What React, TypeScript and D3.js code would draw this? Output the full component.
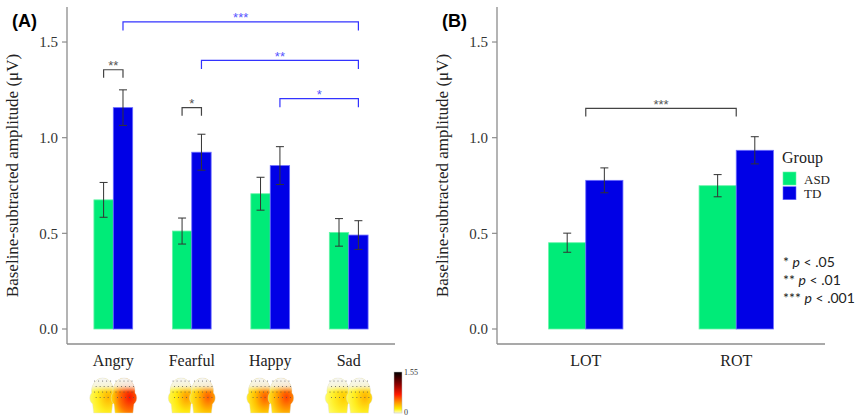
import React from 'react';
import { scaleLinear, scalePoint } from 'd3';

// panel A: emotions
const emotions = ['Angry', 'Fearful', 'Happy', 'Sad'];
const asdEmotion = [0.675, 0.512, 0.707, 0.505];
const asdEmotionErr = [0.091, 0.068, 0.086, 0.072];
const tdEmotion = [1.157, 0.924, 0.854, 0.491];
const tdEmotionErr = [0.093, 0.094, 0.099, 0.075];

// panel B: regions
const regions = ['LOT', 'ROT'];
const asdRegion = [0.451, 0.749];
const asdRegionErr = [0.05, 0.058];
const tdRegion = [0.777, 0.934];
const tdRegionErr = [0.065, 0.071];

const yTicks = [0, 0.5, 1.0, 1.5];
const groups = ['ASD', 'TD'];
const groupColors = ['#00EB78', '#0000E6'];
const groupStroke = ['#66f5a8', '#6a6aff'];

// significance brackets: [category from, group from, category to, group to, level, label, colour]
// group -1 = centre of the category
const bracketsA: [number, number, number, number, number, string, string][] = [
  [0, 1, 3, 1, 1.605, '***', 'blue'],
  [1, 1, 3, 1, 1.404, '**', 'blue'],
  [2, 1, 3, 1, 1.204, '*', 'blue'],
  [0, 0, 0, 1, 1.355, '**', 'gray'],
  [1, 0, 1, 1, 1.157, '*', 'gray'],
];
const bracketsB: [number, number, number, number, number, string, string][] = [
  [0, -1, 1, -1, 1.153, '***', 'gray'],
];
const pNotes = [['*', '.05'], ['**', '.01'], ['***', '.001']];

// scalp maps under panel A (rough heat level per head: ASD, TD)
const headHeat = [[0.3, 0.62], [0.35, 0.47], [0.47, 0.52], [0.25, 0.3]];

const serif = '"Liberation Serif", "DejaVu Serif", serif';
const sans = 'Lato, "Liberation Sans", sans-serif';

const y = scaleLinear().domain([-0.0784, 1.683]).range([344, 7]);

function heatColor(t: number) {
  // white -> yellow -> red -> dark red
  if (t < 0.4) return `rgb(255,${Math.round(255 - (t / 0.4) * 25)},${Math.round(110 - (t / 0.4) * 110)})`;
  if (t < 0.8) return `rgb(255,${Math.round(230 - ((t - 0.4) / 0.4) * 205)},0)`;
  return `rgb(${Math.round(255 - ((t - 0.8) / 0.2) * 60)},${Math.round(25 - ((t - 0.8) / 0.2) * 25)},0)`;
}

function Panel({ x0, x1, cats, asd, asdErr, td, tdErr, brackets, label }: any) {
  const x = scalePoint<string>().domain(cats).range([x0, x1]).padding(0.59);
  const bw = x.step() * 0.247;
  const barX = (ci: number, g: number) => (x(cats[ci]) as number) + (g === 0 ? -bw : 0);
  const barC = (ci: number, g: number) => (g < 0 ? (x(cats[ci]) as number) : barX(ci, g) + bw / 2);
  const series = [
    { vals: asd, err: asdErr },
    { vals: td, err: tdErr },
  ];
  return (
    <g>
      <text x={x0 - 55} y={27} fontFamily={'"Liberation Sans", Arial, sans-serif'} fontWeight="bold" fontSize={18}>{label}</text>
      {/* axes */}
      <line x1={x0} x2={x0} y1={7} y2={344} stroke="#8c8c8c" strokeWidth={1.3} />
      <line x1={x0} x2={x1} y1={344} y2={344} stroke="#8c8c8c" strokeWidth={1.3} />
      {yTicks.map((t) => (
        <g key={t}>
          <line x1={x0 - 5} x2={x0} y1={y(t)} y2={y(t)} stroke="#8c8c8c" strokeWidth={1.2} />
          <text x={x0 - 9} y={y(t)} dy="0.35em" textAnchor="end" fontFamily={serif} fontSize={15} fill="#333">{t.toFixed(1)}</text>
        </g>
      ))}
      <text transform={`translate(${x0 - 49},${(7 + 344) / 2}) rotate(-90)`} textAnchor="middle" fontFamily={serif} fontSize={17} fill="#222">
        Baseline-subtracted amplitude (μV)
      </text>
      {cats.map((c: string) => (
        <text key={c} x={x(c)} y={366} textAnchor="middle" fontFamily={serif} fontSize={16} fill="#222">{c}</text>
      ))}
      {/* bars */}
      {series.map((s, g) =>
        s.vals.map((v: number, ci: number) => (
          <rect key={`${g}-${ci}`} x={barX(ci, g)} y={y(v)} width={bw} height={y(0) - y(v)}
            fill={groupColors[g]} stroke={groupStroke[g]} strokeWidth={0.8} />
        ))
      )}
      {/* error bars */}
      {series.map((s, g) =>
        s.vals.map((v: number, ci: number) => {
          const cx = barC(ci, g);
          const lo = y(v - s.err[ci]);
          const hi = y(v + s.err[ci]);
          return (
            <g key={`e${g}-${ci}`} stroke="#333" strokeWidth={1}>
              <line x1={cx} x2={cx} y1={lo} y2={hi} />
              <line x1={cx - 4} x2={cx + 4} y1={lo} y2={lo} />
              <line x1={cx - 4} x2={cx + 4} y1={hi} y2={hi} />
            </g>
          );
        })
      )}
      {/* brackets */}
      {brackets.map(([c1, g1, c2, g2, lvl, lab, col]: any, i: number) => {
        const xa = barC(c1, g1);
        const xb = barC(c2, g2);
        const yl = y(lvl);
        const legs = col === 'blue' ? 8.7 : 8;
        const stroke = col === 'blue' ? '#3333ff' : '#444';
        const tcol = col === 'blue' ? '#5555ff' : '#555';
        return (
          <g key={i}>
            <path d={`M${xa},${yl + legs}V${yl}H${xb}V${yl + legs}`} fill="none" stroke={stroke} strokeWidth={1.2} />
            <text x={(xa + xb) / 2} y={yl + 0.5} textAnchor="middle" fontFamily={'"Liberation Sans", sans-serif'} fontSize={13} fill={tcol}>{lab}</text>
          </g>
        );
      })}
    </g>
  );
}

function Head({ x, top, heat, id }: { x: number; top: number; heat: number; id: string }) {
  const w = 26;
  const h = 36;
  const d = `M${x + 4},${top + h} L${x + 3},${top + 27} C${x},${top + 25} ${x - 1},${top + 19} ${x + 2},${top + 16}
    C${x + 1},${top + 9} ${x + 6},${top + 1} ${x + w / 2},${top + 1} C${x + w - 6},${top + 1} ${x + w - 1},${top + 9} ${x + w - 2},${top + 16}
    C${x + w + 1},${top + 19} ${x + w},${top + 25} ${x + w - 3},${top + 27} L${x + w - 4},${top + h} Z`;
  const dots: [number, number][] = [];
  for (let r = 0; r < 4; r++) {
    for (let c = 0; c < 5; c++) dots.push([x + 5 + c * 4 + (r % 2) * 1.5, top + 4 + r * 5.5]);
  }
  return (
    <g>
      <defs>
        <radialGradient id={id} cx="0.72" cy="0.55" r="0.75">
          <stop offset="0%" stopColor={heatColor(Math.min(1, heat + 0.2))} />
          <stop offset="55%" stopColor={heatColor(heat)} />
          <stop offset="100%" stopColor={heatColor(Math.max(0, heat - 0.25))} />
        </radialGradient>
        <linearGradient id={id + 't'} x1="0" y1="0" x2="0" y2="1">
          <stop offset="0%" stopColor="#f6f6f6" />
          <stop offset="22%" stopColor="#f6f6f6" stopOpacity={0.85} />
          <stop offset="40%" stopColor="#f6f6f6" stopOpacity={0} />
          <stop offset="100%" stopColor="#f6f6f6" stopOpacity={0} />
        </linearGradient>
      </defs>
      <path d={d} fill={`url(#${id})`} />
      <path d={d} fill={`url(#${id}t)`} stroke="#ddd" strokeWidth={0.4} />
      {dots.map(([dx, dy], i) => (
        <circle key={i} cx={dx} cy={dy} r={0.5} fill="#555" />
      ))}
    </g>
  );
}

export default function App() {
  const xA = scalePoint<string>().domain(emotions).range([67, 395]).padding(0.59);
  const bwA = xA.step() * 0.247;
  return (
    <svg width={858} height={417} style={{ position: 'absolute', left: 0, top: 0, background: '#fff' }}>
      <Panel x0={67} x1={395} cats={emotions} asd={asdEmotion} asdErr={asdEmotionErr} td={tdEmotion} tdErr={tdEmotionErr} brackets={bracketsA} label="(A)" />
      <Panel x0={497} x1={825} cats={regions} asd={asdRegion} asdErr={asdRegionErr} td={tdRegion} tdErr={tdRegionErr} brackets={bracketsB} label="(B)" />

      {/* scalp maps */}
      {emotions.map((e, i) =>
        headHeat[i].map((hv, g) => {
          const c = (xA(e) as number) + (g === 0 ? -bwA / 2 - 1 : bwA / 2 + 1);
          return <Head key={`${e}${g}`} x={c - 13} top={377} heat={hv} id={`h${i}${g}`} />;
        })
      )}
      <defs>
        <linearGradient id="cbar" x1="0" y1="0" x2="0" y2="1">
          <stop offset="0%" stopColor="#000" />
          <stop offset="30%" stopColor="#8b0000" />
          <stop offset="55%" stopColor="#ff1a00" />
          <stop offset="75%" stopColor="#ff9900" />
          <stop offset="90%" stopColor="#ffee00" />
          <stop offset="100%" stopColor="#ffffcc" />
        </linearGradient>
      </defs>
      <rect x={394} y={372} width={8} height={41} fill="url(#cbar)" stroke="#bbb" strokeWidth={0.5} />
      <text x={404} y={375} fontFamily={serif} fontSize={8} fill="#333">1.55</text>
      <text x={404} y={415} fontFamily={serif} fontSize={8} fill="#333">0</text>

      {/* legend */}
      <text x={782} y={163} fontFamily={serif} fontSize={16} fill="#222">Group</text>
      {groups.map((g, i) => (
        <g key={g}>
          <rect x={783} y={172 + i * 14.7} width={13} height={13} fill={groupColors[i]} stroke={groupStroke[i]} strokeWidth={0.6} />
          <text x={804} y={179 + i * 14.7} dy="0.35em" fontFamily={serif} fontSize={13} fill="#222">{g}</text>
        </g>
      ))}
      {pNotes.map(([s, p], i) => (
        <text key={p} x={783} y={267 + i * 18.2} fontFamily={sans} fontSize={14} fill="#222">
          {s} <tspan fontStyle="italic">p</tspan> &lt; {p}
        </text>
      ))}
    </svg>
  );
}
